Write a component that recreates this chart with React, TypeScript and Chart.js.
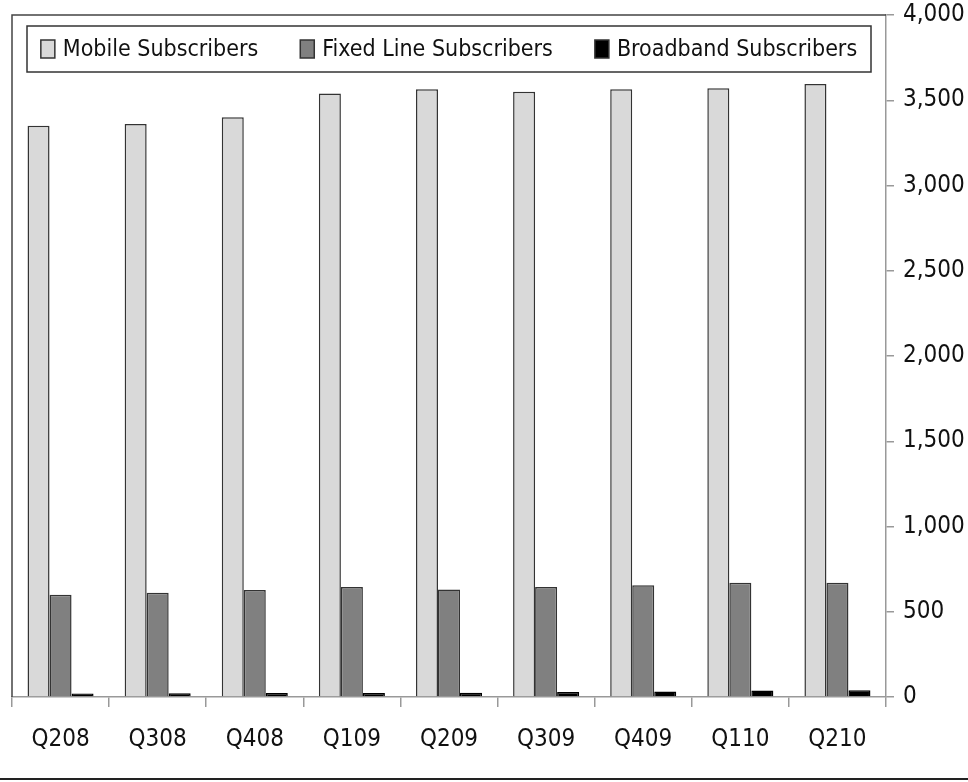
import React, { useEffect, useRef } from "react";
import { Chart, registerables } from "chart.js";

Chart.register(...registerables);

const categories = ["Q208", "Q308", "Q408", "Q109", "Q209", "Q309", "Q409", "Q110", "Q210"];
const mobileSubscribers = [3350, 3360, 3400, 3540, 3565, 3550, 3565, 3570, 3595];
const fixedLineSubscribers = [600, 612, 628, 645, 630, 645, 655, 670, 670];
const broadbandSubscribers = [21, 22, 23, 24, 25, 30, 32, 38, 39];
const seriesLabels = ["Mobile Subscribers", "Fixed Line Subscribers", "Broadband Subscribers"];
const yTicks = { min: 0, max: 4000, step: 500 };

const FONT_FAMILY = '"Liberation Sans Narrow", "Arial Narrow", "DejaVu Sans Condensed", "Liberation Sans", sans-serif';
const AXIS_FONT_SIZE = 24;
const LEGEND_FONT_SIZE = 23;

const framePlugin = {
  id: "framePlugin",
  afterDraw(chart: any) {
    const { ctx, chartArea } = chart;
    const { left, top, right } = chartArea;
    ctx.save();
    ctx.strokeStyle = "#444";
    ctx.lineWidth = 1.5;
    ctx.beginPath();
    ctx.moveTo(left, chartArea.bottom);
    ctx.lineTo(left, top);
    ctx.lineTo(right, top);
    ctx.stroke();

    ctx.strokeStyle = "#222";
    ctx.lineWidth = 2;
    ctx.beginPath();
    ctx.moveTo(0, 779);
    ctx.lineTo(chart.width, 779);
    ctx.stroke();

    const lx = left + 15;
    const ly = top + 11;
    const lw = right - 15 - lx;
    const lh = 46;
    ctx.fillStyle = "#fff";
    ctx.fillRect(lx, ly, lw, lh);
    ctx.strokeStyle = "#333";
    ctx.lineWidth = 1.5;
    ctx.strokeRect(lx, ly, lw, lh);

    ctx.font = `${LEGEND_FONT_SIZE}px ${FONT_FAMILY}`;
    ctx.textBaseline = "middle";
    const boxW = 14;
    const boxH = 18;
    const gapBoxText = 8;
    const gapItems = 42;
    const items = chart.data.datasets.map((ds: any) => ({
      label: ds.label,
      fill: ds.backgroundColor,
      w: ctx.measureText(ds.label).width,
    }));
    const total = items.reduce((s: number, it: any) => s + boxW + gapBoxText + it.w, 0) + gapItems * (items.length - 1);
    let x = lx + (lw - total) / 2;
    const cy = ly + lh / 2;
    items.forEach((it: any) => {
      ctx.fillStyle = it.fill;
      ctx.fillRect(x, cy - boxH / 2, boxW, boxH);
      ctx.strokeStyle = "#333";
      ctx.lineWidth = 1.5;
      ctx.strokeRect(x, cy - boxH / 2, boxW, boxH);
      ctx.fillStyle = "#111";
      ctx.fillText(it.label, x + boxW + gapBoxText, cy + 1);
      x += boxW + gapBoxText + it.w + gapItems;
    });
    ctx.restore();
  },
};

export default function App() {
  const canvasRef = useRef<HTMLCanvasElement | null>(null);

  useEffect(() => {
    if (!canvasRef.current) return;
    const chart = new Chart(canvasRef.current, {
      type: "bar",
      data: {
        labels: categories,
        datasets: [
          {
            label: seriesLabels[0],
            data: mobileSubscribers,
            backgroundColor: "#d9d9d9",
            borderColor: "#333",
            borderWidth: 1.5,
          },
          {
            label: seriesLabels[1],
            data: fixedLineSubscribers,
            backgroundColor: "#808080",
            borderColor: "#333",
            borderWidth: 1.5,
          },
          {
            label: seriesLabels[2],
            data: broadbandSubscribers,
            backgroundColor: "#000",
            borderColor: "#000",
            borderWidth: 1.5,
          },
        ],
      },
      options: {
        responsive: true,
        maintainAspectRatio: false,
        animation: false,
        datasets: {
          bar: { categoryPercentage: 0.68, barPercentage: 1.0 },
        },
        layout: { padding: { left: 12, top: 15, right: 0, bottom: 0 } },
        plugins: {
          legend: { display: false },
          tooltip: { enabled: false },
        },
        scales: {
          x: {
            grid: {
              offset: true,
              drawOnChartArea: false,
              drawTicks: true,
              tickLength: 10,
              color: "#999",
              lineWidth: 1.5,
            },
            border: { display: true, color: "#999", width: 1.5 },
            ticks: {
              color: "#111",
              font: { family: FONT_FAMILY, size: AXIS_FONT_SIZE, lineHeight: 1.2 },
              padding: 18,
              maxRotation: 0,
              autoSkip: false,
            },
            afterFit(scale: any) {
              scale.height = 85;
              scale.paddingLeft = 0;
              scale.paddingRight = 0;
            },
          },
          y: {
            position: "right",
            min: yTicks.min,
            max: yTicks.max,
            grid: {
              drawOnChartArea: false,
              drawTicks: true,
              tickLength: 8,
              color: "#999",
              lineWidth: 1.5,
            },
            border: { display: true, color: "#999", width: 1.5 },
            ticks: {
              stepSize: yTicks.step,
              color: "#111",
              font: { family: FONT_FAMILY, size: AXIS_FONT_SIZE, lineHeight: 1 },
              padding: 9,
            },
            afterFit(scale: any) {
              scale.width = 82;
              scale.paddingTop = 0;
              scale.paddingBottom = 0;
            },
          },
        },
      },
      plugins: [framePlugin],
    });
    return () => chart.destroy();
  }, []);

  return (
    <div style={{ position: "absolute", left: 0, top: 0, width: 968, height: 782, background: "#fff" }}>
      <canvas ref={canvasRef} />
    </div>
  );
}
